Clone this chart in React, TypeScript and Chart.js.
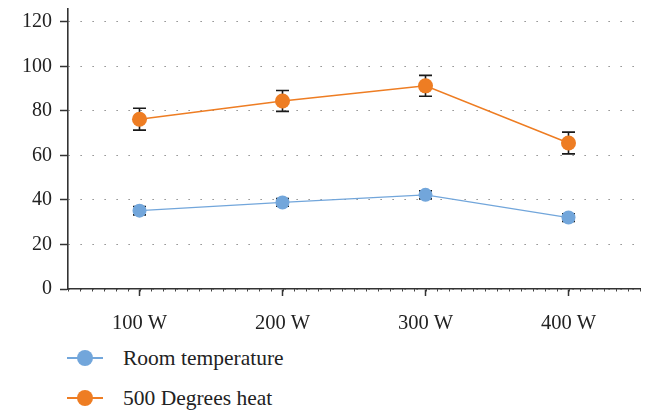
import React, { useEffect, useRef } from "react";
import { Chart, registerables } from "chart.js";

Chart.register(...registerables);

const categories = ["100 W", "200 W", "300 W", "400 W"];
const roomTemp = [35.2, 38.9, 42.3, 32.1];
const roomTempErr = [1.9, 1.7, 1.8, 1.7];
const heat500 = [76.3, 84.5, 91.3, 65.6];
const heat500Err = [4.9, 4.7, 4.7, 4.9];
const yTicks = [0, 20, 40, 60, 80, 100, 120];

const BLUE = "#72A6DB";
const ORANGE = "#EE7D23";
const FONT = "'Liberation Serif', 'DejaVu Serif', serif";

const errorBarPlugin = {
  id: "errorBars",
  beforeDatasetsDraw(chart: any) {
    const ctx = chart.ctx;
    const yScale = chart.scales.y;
    chart.data.datasets.forEach((ds: any, i: number) => {
      const errs = ds.errors as number[] | undefined;
      if (!errs) return;
      const meta = chart.getDatasetMeta(i);
      meta.data.forEach((pt: any, j: number) => {
        const v = ds.data[j];
        const e = errs[j];
        const yt = yScale.getPixelForValue(v + e);
        const yb = yScale.getPixelForValue(v - e);
        const x = pt.x;
        const hw = 6.5;
        ctx.save();
        ctx.strokeStyle = "#1a1a1a";
        ctx.lineWidth = 1.6;
        ctx.beginPath();
        ctx.moveTo(x, yt);
        ctx.lineTo(x, yb);
        ctx.moveTo(x - hw, yt);
        ctx.lineTo(x + hw, yt);
        ctx.moveTo(x - hw, yb);
        ctx.lineTo(x + hw, yb);
        ctx.stroke();
        ctx.restore();
      });
    });
  },
};

const minorTickPlugin = {
  id: "minorTicks",
  afterDraw(chart: any) {
    const xs = chart.scales.x;
    const ctx = chart.ctx;
    const step = (xs.getPixelForValue(1) - xs.getPixelForValue(0)) / 12;
    const y = xs.top;
    ctx.save();
    ctx.strokeStyle = "#444";
    ctx.lineWidth = 1;
    ctx.beginPath();
    for (let x = xs.left; x <= xs.right + 0.5; x += step) {
      const px = Math.round(x) + 0.5;
      ctx.moveTo(px, y);
      ctx.lineTo(px, y + 2.5);
    }
    ctx.stroke();
    ctx.restore();
  },
};

export default function App() {
  const ref = useRef<HTMLCanvasElement>(null);

  useEffect(() => {
    if (!ref.current) return;
    const chart = new Chart(ref.current, {
      type: "line",
      data: {
        labels: categories,
        datasets: [
          {
            label: "Room temperature",
            data: roomTemp,
            errors: roomTempErr,
            borderColor: BLUE,
            backgroundColor: BLUE,
            pointBackgroundColor: BLUE,
            pointBorderColor: BLUE,
            pointRadius: 7,
            pointBorderWidth: 0,
            borderWidth: 1.3,
            tension: 0,
          } as any,
          {
            label: "500 Degrees heat",
            data: heat500,
            errors: heat500Err,
            borderColor: ORANGE,
            backgroundColor: ORANGE,
            pointBackgroundColor: ORANGE,
            pointBorderColor: ORANGE,
            pointRadius: 7.5,
            pointBorderWidth: 0,
            borderWidth: 1.5,
            tension: 0,
          } as any,
        ],
      },
      options: {
        responsive: false,
        animation: false,
        devicePixelRatio: 1,
        layout: { padding: { top: 5, right: 14, left: 0, bottom: 0 } },
        plugins: {
          legend: { display: false },
          tooltip: { enabled: false },
        },
        scales: {
          x: {
            type: "category",
            offset: true,
            grid: {
              display: true,
              drawOnChartArea: false,
              drawTicks: true,
              tickLength: 7,
              tickColor: "#333",
              tickWidth: 1.5,
              offset: false,
              color: "#333",
            },
            border: { color: "#333", width: 1.6 },
            ticks: {
              color: "#222",
              font: { family: FONT, size: 20.5 },
              padding: 15,
              maxRotation: 0,
            },
            afterFit: (s: any) => {
              s.height = 51;
              s.paddingLeft = 0;
              s.paddingRight = 0;
            },
          },
          y: {
            min: 0,
            max: 126.5,
            afterBuildTicks: (s: any) => {
              s.ticks = yTicks.map((v) => ({ value: v }));
            },
            ticks: {
              stepSize: 20,
              includeBounds: false,
              color: "#222",
              font: { family: FONT, size: 20 },
              padding: 8,
            },
            grid: {
              color: "#555",
              lineWidth: 1,
              drawTicks: true,
              tickLength: 8,
              tickColor: "#333",
              tickWidth: 1.5,
            },
            border: { color: "#333", width: 1.6, dash: [1, 11] },
            afterFit: (s: any) => {
              s.width = 68;
              s.paddingTop = 0;
              s.paddingBottom = 0;
            },
          },
        },
      } as any,
      plugins: [errorBarPlugin, minorTickPlugin],
    });
    return () => chart.destroy();
  }, []);

  const legendItems = [
    { label: "Room temperature", color: BLUE, top: 358 },
    { label: "500 Degrees heat", color: ORANGE, top: 398 },
  ];

  return (
    <div style={{ position: "relative", width: 654, height: 412, margin: "-8px 0 0 -8px" }}>
      <canvas ref={ref} width={654} height={340} style={{ display: "block" }} />
      {legendItems.map((it) => (
        <div key={it.label}>
          <div
            style={{
              position: "absolute",
              left: 67,
              top: it.top - 0.75,
              width: 36,
              height: 1.5,
              background: it.color,
            }}
          />
          <div
            style={{
              position: "absolute",
              left: 77,
              top: it.top - 8,
              width: 16,
              height: 16,
              borderRadius: "50%",
              background: it.color,
            }}
          />
          <div
            style={{
              position: "absolute",
              left: 123,
              top: it.top - 14,
              height: 28,
              lineHeight: "28px",
              fontFamily: FONT,
              fontSize: 21.5,
              color: "#222",
              whiteSpace: "nowrap",
            }}
          >
            {it.label}
          </div>
        </div>
      ))}
    </div>
  );
}
